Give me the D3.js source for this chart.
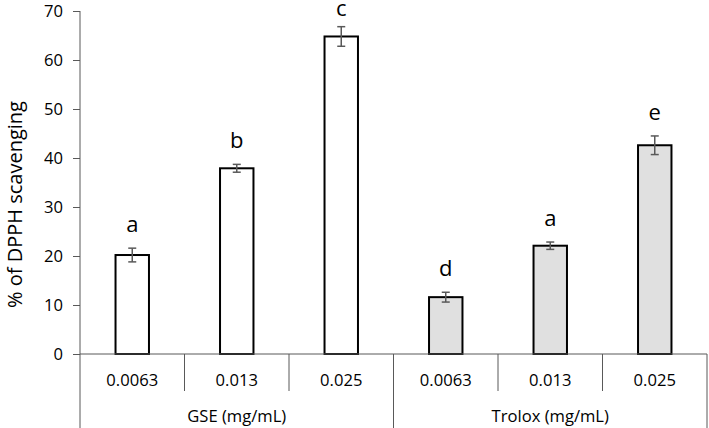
<!DOCTYPE html>
<html><head><meta charset="utf-8">
<script src="https://cdn.jsdelivr.net/npm/d3@7"></script>
<style>body{margin:0;background:#fff}svg{display:block}text{font-family:"Open Sans",Lato,sans-serif;fill:#000}</style>
</head><body><svg id="c" width="709" height="428"></svg>
<script>
const groups = ["GSE (mg/mL)", "Trolox (mg/mL)"];
const concentrations = ["0.0063", "0.013", "0.025"];
const gseValues = [20.2, 37.9, 64.8];
const gseErrors = [1.4, 0.8, 2.0];
const gseLetters = ["a", "b", "c"];
const troloxValues = [11.6, 22.1, 42.6];
const troloxErrors = [1.0, 0.75, 1.9];
const troloxLetters = ["d", "a", "e"];
const yTicks = [0, 10, 20, 30, 40, 50, 60, 70];
const yTitle = "% of DPPH scavenging";

(function () {
const rows = [];
groups.forEach((g, gi) => {
  const vals = gi === 0 ? gseValues : troloxValues;
  const errs = gi === 0 ? gseErrors : troloxErrors;
  const lets = gi === 0 ? gseLetters : troloxLetters;
  concentrations.forEach((c, ci) => rows.push({key: gi + "|" + c, group: g, gi, conc: c, v: vals[ci], e: errs[ci], l: lets[ci]}));
});

const svg = d3.select("#c");
const pLeft = 80, pRight = 707, pTop = 11, pBase = 354;
const x = d3.scaleBand().domain(rows.map(d => d.key)).range([pLeft, pRight]).paddingInner(0).paddingOuter(0);
const y = d3.scaleLinear().domain([0, 70]).range([pBase, pTop]);
const bw = x.bandwidth() * 0.32;

// y axis
const ya = svg.append("g").attr("transform", `translate(${pLeft},0)`)
  .call(d3.axisLeft(y).tickValues(yTicks).tickSize(7).tickPadding(10));
ya.select(".domain").remove();
ya.selectAll(".tick line").attr("stroke", "#595959");
ya.selectAll(".tick text").attr("font-size", 16.6).style("font-family", '"Open Sans",sans-serif');
svg.append("line").attr("x1", pLeft).attr("x2", pLeft).attr("y1", pTop).attr("y2", 428).attr("stroke", "#595959");

// y title
svg.append("text").attr("transform", `translate(22,${(pTop + pBase) / 2 + 22}) rotate(-90)`)
  .attr("text-anchor", "middle").attr("font-size", 20).text(yTitle);

// bars
svg.selectAll("rect.bar").data(rows).join("rect")
  .attr("x", d => x(d.key) + (x.bandwidth() - bw) / 2)
  .attr("y", d => y(d.v)).attr("width", bw).attr("height", d => y(0) - y(d.v))
  .attr("fill", d => d.gi === 0 ? "#ffffff" : "#e0e0e0")
  .attr("stroke", "#000").attr("stroke-width", 2);

// error bars
const cx = d => x(d.key) + x.bandwidth() / 2;
const eb = svg.selectAll("g.err").data(rows).join("g").attr("stroke", "#595959").attr("stroke-width", 1.5);
eb.append("line").attr("x1", cx).attr("x2", cx)
  .attr("y1", d => y(d.v - d.e)).attr("y2", d => y(d.v + d.e));
eb.append("line").attr("x1", d => cx(d) - 4).attr("x2", d => cx(d) + 4)
  .attr("y1", d => y(d.v - d.e)).attr("y2", d => y(d.v - d.e));
eb.append("line").attr("x1", d => cx(d) - 4).attr("x2", d => cx(d) + 4)
  .attr("y1", d => y(d.v + d.e)).attr("y2", d => y(d.v + d.e));

// letters
svg.selectAll("text.let").data(rows).join("text")
  .attr("x", cx)
  .attr("y", d => Math.max(y(d.v + d.e) - 16, 16))
  .attr("text-anchor", "middle").attr("font-size", 22).text(d => d.l);

// x axis baseline
svg.append("line").attr("x1", pLeft).attr("x2", pRight).attr("y1", pBase).attr("y2", pBase).attr("stroke", "#595959");

// category dividers and labels
const catDiv = rows.slice(1).map(d => x(d.key));
svg.selectAll("line.cdiv").data(catDiv).join("line")
  .attr("x1", d => d).attr("x2", d => d).attr("y1", pBase).attr("y2", 391).attr("stroke", "#595959");
svg.selectAll("text.cat").data(rows).join("text")
  .attr("x", cx).attr("y", 386)
  .attr("text-anchor", "middle").attr("font-size", 16.6).text(d => d.conc);

// group dividers and labels
const grpEdges = groups.map((g, gi) => {
  const ks = rows.filter(r => r.gi === gi);
  return {g, x0: x(ks[0].key), x1: x(ks[ks.length - 1].key) + x.bandwidth()};
});
svg.selectAll("line.gdiv").data(grpEdges.slice(1).map(d => d.x0).concat([pRight])).join("line")
  .attr("x1", d => d).attr("x2", d => d).attr("y1", pBase).attr("y2", 428).attr("stroke", "#595959");
svg.selectAll("text.grp").data(grpEdges).join("text")
  .attr("x", d => (d.x0 + d.x1) / 2).attr("y", 422)
  .attr("text-anchor", "middle").attr("font-size", 16.6).text(d => d.g);
})();
</script></body></html>
